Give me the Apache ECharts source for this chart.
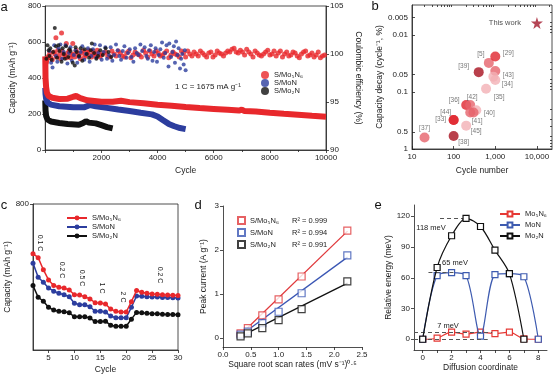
<!DOCTYPE html>
<html>
<head>
<meta charset="utf-8">
<script src="https://cdn.jsdelivr.net/npm/echarts@6/dist/echarts.min.js"></script>
<style>
html, body { margin: 0; padding: 0; background: #fff; }
#chart { width: 554px; height: 376px; }
</style>
</head>
<body>
<div id="chart"></div>
<script>
const FONT = 'Liberation Sans, Arial, sans-serif';
const RED = '#e8282c';
const BLUE = '#2c3d9e';
const BLACK = '#111111';

// ---- panel a: long cycling at 1 C ----
const redCapacity = [[1, 520], [10, 400], [30, 350], [60, 318], [120, 300], [250, 290], [500, 283], [800, 285], [1000, 296], [1100, 300], [1250, 288], [1500, 276], [2000, 268], [2400, 268], [2700, 274], [3000, 266], [3500, 260], [4000, 251], [4500, 246], [5000, 239], [5500, 233], [6000, 228], [6500, 223], [6900, 219], [7000, 224], [7100, 216], [7500, 214], [8000, 207], [8500, 201], [9000, 196], [9500, 190], [10000, 185]];
const blueCapacity = [[1, 345], [10, 310], [30, 285], [80, 265], [200, 252], [500, 243], [1000, 237], [1400, 238], [1600, 250], [1800, 243], [2200, 234], [2600, 225], [3000, 217], [3400, 207], [3800, 198], [4000, 186], [4200, 165], [4400, 145], [4600, 132], [4800, 122], [5000, 116]];
const blackCapacity = [[1, 275], [10, 220], [30, 190], [80, 170], [200, 158], [500, 150], [800, 144], [1200, 140], [1350, 150], [1450, 160], [1550, 152], [1800, 148], [2000, 138], [2200, 127], [2400, 120]];

const redCE = [[20, 99.0], [50, 99.2], [60, 99.4], [90, 99.6], [120, 99.8], [160, 100.1], [200, 99.6], [250, 99.4], [300, 100.2], [340, 100.0], [380, 101.7], [400, 99.7], [450, 100.4], [500, 99.9], [540, 99.5], [580, 102.2], [600, 100.3], [650, 100.0], [700, 99.8], [750, 101.1], [760, 99.6], [800, 100.1], [850, 100.3], [900, 99.6], [950, 99.9], [980, 101.1], [1000, 100.0], [1050, 99.7], [1100, 100.4], [1150, 100.1], [1200, 99.8], [1250, 99.5], [1300, 100.1], [1350, 100.3], [1400, 99.7], [1450, 99.9], [1500, 100.2], [1550, 100.4], [1600, 99.9], [1650, 99.7], [1700, 100.3], [1750, 100.0], [1800, 99.8], [1850, 100.4], [1900, 100.1], [1950, 99.7], [2000, 99.9], [2075, 100.1], [2150, 100.2], [2225, 99.8], [2300, 99.7], [2375, 100.3], [2450, 100.0], [2525, 99.8], [2600, 100.3], [2675, 100.1], [2750, 99.8], [2825, 99.7], [2900, 100.1], [2975, 100.3], [3050, 99.6], [3125, 99.9], [3200, 100.2], [3275, 100.0], [3350, 99.9], [3425, 99.7], [3500, 100.4], [3575, 100.1], [3650, 99.7], [3725, 100.3], [3800, 100.0], [3875, 99.8], [3950, 100.3], [4025, 100.1], [4100, 99.8], [4175, 99.9], [4250, 100.1], [4325, 100.3], [4400, 99.6], [4475, 99.9], [4550, 100.2], [4625, 100.0], [4700, 99.9], [4775, 99.7], [4850, 100.3], [4925, 100.1], [5000, 99.7], [5075, 100.3], [5150, 100.0], [5225, 99.8], [5300, 100.2], [5375, 100.0], [5450, 99.8], [5525, 100.3], [5600, 100.1], [5675, 99.9], [5750, 99.7], [5825, 100.1], [5900, 100.2], [5975, 99.7], [6050, 99.9], [6125, 100.3], [6200, 100.1], [6275, 100.0], [6350, 99.8], [6425, 100.1], [6500, 100.3], [6575, 100.2], [6650, 100.5], [6725, 100.6], [6800, 100.2], [6875, 100.1], [6950, 100.4], [7025, 100.2], [7100, 99.9], [7175, 100.5], [7250, 100.2], [7325, 100.0], [7400, 99.7], [7475, 100.3], [7550, 100.1], [7625, 99.9], [7700, 99.8], [7775, 100.0], [7850, 100.2], [7925, 100.4], [8000, 99.9], [8075, 100.0], [8150, 100.3], [8225, 99.8], [8300, 100.1], [8375, 100.3], [8450, 99.7], [8525, 100.0], [8600, 100.2], [8675, 99.8], [8750, 99.9], [8825, 100.2], [8900, 100.1], [8975, 99.8], [9050, 99.6], [9125, 100.0], [9200, 100.2], [9275, 100.3], [9350, 99.8], [9425, 99.9], [9500, 100.1], [9575, 99.7], [9650, 99.9], [9725, 100.2], [9800, 99.6], [9875, 99.8], [9950, 99.9]];
const blueCE = [[150, 100.3], [210, 99.1], [260, 98.6], [320, 100.9], [380, 99.8], [430, 99.2], [480, 100.6], [540, 101.0], [600, 99.5], [660, 100.2], [720, 100.9], [790, 99.0], [850, 100.1], [900, 100.7], [950, 99.3], [1020, 99.9], [1080, 100.4], [1140, 99.1], [1200, 99.7], [1260, 100.2], [1320, 100.8], [1390, 99.4], [1450, 100.0], [1520, 100.6], [1580, 99.2], [1640, 99.8], [1700, 100.5], [1760, 101.0], [1820, 99.6], [1890, 100.1], [1950, 100.9], [2010, 99.4], [2080, 100.2], [2140, 100.7], [2200, 99.5], [2270, 99.9], [2330, 100.7], [2390, 99.3], [2450, 99.9], [2520, 101.0], [2580, 100.4], [2640, 99.8], [2700, 99.4], [2760, 100.3], [2820, 100.8], [2890, 99.6], [2950, 100.1], [3010, 100.5], [3070, 99.7], [3140, 99.2], [3200, 100.6], [3260, 100.1], [3320, 99.9], [3390, 101.0], [3450, 100.3], [3540, 100.7], [3600, 99.8], [3650, 99.5], [3700, 100.4], [3760, 100.9], [3820, 99.3], [3880, 100.2], [3930, 100.6], [3980, 99.2], [4040, 99.9], [4100, 100.5], [4160, 101.2], [4220, 99.6], [4270, 100.1], [4320, 100.9], [4390, 98.7], [4420, 101.1], [4480, 99.7], [4530, 100.2], [4580, 100.8], [4620, 99.1], [4660, 101.3], [4710, 99.9], [4750, 100.6], [4800, 98.5], [4840, 99.5], [4880, 100.0], [4930, 98.9], [4970, 100.4], [5000, 98.3]];
const blackCE = [[40, 99.5], [80, 100.9], [120, 100.4], [150, 99.8], [180, 100.6], [230, 99.4], [280, 100.2], [340, 102.7], [380, 100.8], [420, 99.6], [470, 100.9], [510, 100.3], [580, 99.2], [620, 100.6], [660, 100.0], [700, 99.5], [740, 100.8], [820, 99.7], [860, 100.5], [900, 100.3], [980, 99.1], [1050, 98.8], [1080, 100.7], [1120, 100.2], [1200, 99.8], [1260, 100.6], [1320, 99.3], [1400, 100.5], [1480, 100.0], [1560, 99.6], [1620, 100.4], [1660, 101.1], [1740, 100.1], [1820, 99.5], [1880, 99.8], [1960, 100.4], [2050, 99.9], [2150, 100.6], [2250, 100.2], [2350, 99.7]];

// ---- panel b: comparison with literature ----
const refLabels = ['[5]', '[29]', '[39]', '[43]', '', '[34]', '[35]', '[36]', '[42]', '[40]', '[41]', '', '[44]', '[33]', '[45]', '[37]', '[38]'];
const refCycles = [700, 1000, 400, 1000, 900, 1000, 600, 200, 250, 350, 250, 300, 100, 100, 200, 20, 100];
const refDecay = [0.031, 0.024, 0.045, 0.043, 0.054, 0.062, 0.088, 0.17, 0.17, 0.21, 0.23, 0.23, 0.31, 0.31, 0.39, 0.63, 0.59];
const refShade = [2, 1, 0, 2, 3, 3, 3, 1, 2, 3, 2, 2, 1, 1, 3, 2, 0];
const thisWork = [10000, 0.0062];

// ---- panel c: rate capability ----
const rateCycles = [2, 3, 4, 5, 6, 7, 8, 9, 10, 11, 12, 13, 14, 15, 16, 17, 18, 19, 20, 21, 22, 23, 24, 25, 26, 27, 28, 29, 30];
const rateRed = [528, 506, 440, 384, 353, 344, 340, 329, 303, 302, 292, 280, 259, 258, 252, 224, 212, 208, 208, 265, 326, 316, 311, 307, 305, 303, 302, 300, 298];
const rateBlue = [476, 399, 371, 340, 322, 311, 303, 292, 256, 248, 248, 237, 212, 212, 208, 186, 177, 177, 177, 234, 296, 294, 292, 291, 290, 288, 287, 286, 285];
const rateBlack = [353, 289, 267, 234, 219, 212, 210, 204, 182, 182, 182, 175, 156, 156, 157, 136, 130, 130, 130, 169, 206, 204, 202, 199, 198, 196, 195, 194, 193];
const rateNames = ['0.1 C', '0.2 C', '0.5 C', '1 C', '2 C', '0.2 C'];

// ---- panel d: peak current vs sqrt scan rate ----
const scanRoot = [0.316, 0.447, 0.707, 1.0, 1.414, 2.236];
const peakRed = [0.11, 0.23, 0.52, 0.88, 1.40, 2.44];
const peakBlue = [0.08, 0.15, 0.34, 0.60, 1.02, 1.88];
const peakBlack = [0.04, 0.11, 0.23, 0.41, 0.66, 1.29];
const fitX = [0.3, 2.24];
const fitRed = [0.06, 2.43];
const fitBlue = [0.05, 1.84];
const fitBlack = [0.03, 1.25];
const r2Values = ['0.999', '0.994', '0.991'];

// ---- panel e: diffusion barriers ----
const diffX = [0, 1, 2, 3, 4, 5, 6, 7, 8];
const energyMo5N6 = [0, 1, 7, 5, 7, 5.5, 7, 0.5, 0];
const energyMoN = [0, 62, 65, 62, 3, 63, 64, 61, 0];
const energyMo2N = [0, 70, 101, 118, 110, 87, 64, 0];
const barrierY = [118, 65, 7, 0];
const barrierFrom = [1.2, 0.4, -0.6, -0.6];
const barrierTo = [3.0, 2.2, 4.8, 4.5];

const names = ['S/Mo₅N₆', 'S/MoN', 'S/Mo₂N'];
const eNames = ['Mo₅N₆', 'MoN', 'Mo₂N'];
const colors = [RED, BLUE, BLACK];
const shades = ['#a8101e', '#e0262e', '#e6636b', '#f3b0b5'];
const labelOffsets = [[-8, -9], [13, -3], [-15, -6], [13, 4], [0, 0], [12, 4], [13, 8], [-12, -5], [2, -8], [13, 3], [7, 9], [0, 0], [-8, -8], [-13, -1], [10, 6], [0, -9], [10, 6]];

function ax(extra) {
    const base = {
        nameLocation: 'middle',
        axisLine: { show: true, onZero: false, lineStyle: { color: '#222', width: 0.8 } },
        axisTick: { show: true, length: 3, lineStyle: { color: '#222', width: 0.8 } },
        axisLabel: { fontSize: 8, color: '#222', fontFamily: FONT, margin: 4 },
        splitLine: { show: false },
        nameTextStyle: { fontSize: 8.5, color: '#222', fontFamily: FONT },
    };
    Object.keys(extra).forEach((k) => {
        const v = extra[k];
        if (v && typeof v === 'object' && !Array.isArray(v) && base[k]) {
            base[k] = Object.assign({}, base[k], v);
        } else {
            base[k] = v;
        }
    });
    return base;
}

const zip = (xs, ys) => xs.map((x, i) => [x, ys[i]]);
const strip = (n) => n.split('|')[1];

const chart = echarts.init(document.getElementById('chart'));

const gridBox = { show: true, borderColor: '#222', borderWidth: 0.8, backgroundColor: 'transparent' };

const series = [];

// panel a
[redCE, blueCE, blackCE].forEach((d, i) => {
    series.push({
        name: 'a|' + names[i], type: 'scatter', xAxisIndex: 0, yAxisIndex: 1,
        data: d, symbolSize: i === 0 ? 5 : 4, itemStyle: { color: colors[i] }, z: 3,
    });
});
[blackCapacity, blueCapacity, redCapacity].forEach((d, k) => {
    const i = 2 - k;
    series.push({
        name: 'a|' + names[i], type: 'line', xAxisIndex: 0, yAxisIndex: 0,
        data: d, showSymbol: false, lineStyle: { color: colors[i], width: 6 },
        itemStyle: { color: colors[i] }, z: 2,
    });
});

// panel b
series.push({
    type: 'scatter', xAxisIndex: 1, yAxisIndex: 2, symbolSize: 10,
    data: refCycles.map((c, i) => ({
        value: [c, refDecay[i]],
        itemStyle: { color: shades[refShade[i]] },
        label: {
            show: refLabels[i] !== '', formatter: refLabels[i], position: 'inside',
            offset: labelOffsets[i], fontSize: 6.5, color: '#555', fontFamily: FONT,
        },
    })),
});
series.push({
    type: 'scatter', xAxisIndex: 1, yAxisIndex: 2, symbolSize: 12,
    symbol: 'path://M50,0 L61,35 L98,35 L68,57 L79,91 L50,70 L21,91 L32,57 L2,35 L39,35 Z',
    data: [thisWork], itemStyle: { color: '#a3172a' },
    label: { show: true, formatter: 'This work', position: 'left', distance: 10, fontSize: 7.5, color: '#222', fontFamily: FONT },
});

// panel c
[rateRed, rateBlue, rateBlack].forEach((d, i) => {
    series.push({
        name: 'c|' + names[i], type: 'line', xAxisIndex: 3, yAxisIndex: 4,
        data: zip(rateCycles, d), symbol: 'circle', symbolSize: 5,
        lineStyle: { color: colors[i], width: 1.5 }, itemStyle: { color: colors[i] }, z: 3 - i,
    });
});

// panel d
const dColors = ['#e0393c', '#3a56b4', '#111'];
[peakRed, peakBlue, peakBlack].forEach((d, i) => {
    series.push({
        name: 'd|' + names[i], type: 'scatter', xAxisIndex: 4, yAxisIndex: 5,
        data: zip(scanRoot, d), symbol: 'rect', symbolSize: 7,
        itemStyle: { color: '#fff', borderColor: dColors[i], borderWidth: 1.2 }, z: 4,
    });
});
[fitRed, fitBlue, fitBlack].forEach((d, i) => {
    series.push({
        type: 'line', xAxisIndex: 4, yAxisIndex: 5, data: zip(fitX, d),
        showSymbol: false, lineStyle: { color: dColors[i], width: 1.3 }, z: 3,
    });
});

// panel e
const eColors = ['#e53935', '#3e5bb0', '#111'];
[energyMo5N6, energyMoN, energyMo2N].forEach((d, i) => {
    const s = {
        name: 'e|' + eNames[i], type: 'line', xAxisIndex: 5, yAxisIndex: 6,
        data: zip(diffX.slice(0, d.length), d), smooth: 0.3,
        symbol: 'rect', symbolSize: 6,
        lineStyle: { color: eColors[i], width: 1.2 },
        itemStyle: { color: '#fff', borderColor: eColors[i], borderWidth: 1.2 },
        z: 3 + i,
    };
    if (i === 2) {
        s.markLine = {
            silent: true, symbol: 'none', label: { show: false },
            lineStyle: { color: '#555', type: [4, 3], width: 1 },
            data: barrierY.map((y, k) => [{ coord: [barrierFrom[k], y] }, { coord: [barrierTo[k], y] }]),
        };
    }
    series.push(s);
});

const legendText = { fontSize: 7.5, color: '#222', fontFamily: FONT };

const option = {
    animation: false,
    backgroundColor: '#fff',
    textStyle: { fontFamily: FONT },
    grid: [
        Object.assign({ left: 33, top: 6, width: 293, height: 144 }, gridBox),
        Object.assign({ left: 412, top: 5, width: 140, height: 144 }, gridBox),
        Object.assign({ left: 33, top: 204, width: 145, height: 146 }, gridBox),
        { left: 223, top: 206, width: 139, height: 141 },
        { left: 414, top: 205, width: 133, height: 145 },
    ],
    xAxis: [
        ax({
            gridIndex: 0, type: 'value', min: 0, max: 10000, interval: 2000, name: 'Cycle', nameGap: 16,
            axisLabel: { formatter: (v) => (v === 0 ? '' : v) },
            minorTick: { show: true, splitNumber: 2, length: 2, lineStyle: { color: '#222', width: 0.8 } },
        }),
        ax({
            gridIndex: 1, type: 'log', logBase: 10, min: 10, max: 23000, name: 'Cycle number', nameGap: 17,
            axisLabel: { customValues: [10, 100, 1000, 10000] },
            axisTick: { customValues: [10, 100, 1000, 10000], inside: true },
        }),
        ax({
            gridIndex: 1, type: 'log', logBase: 10, min: 10, max: 23000,
            axisLine: { show: false }, axisLabel: { show: false },
            axisTick: {
                customValues: [20, 30, 40, 50, 60, 70, 80, 90, 200, 300, 400, 500, 600, 700, 800, 900, 2000, 3000, 4000, 5000, 6000, 7000, 8000, 9000, 20000],
                inside: true, length: 2,
            },
        }),
        ax({
            gridIndex: 2, type: 'value', min: 2, max: 30, name: 'Cycle', nameGap: 15,
            axisLabel: { customValues: [5, 10, 15, 20, 25, 30] },
            axisTick: { customValues: [5, 10, 15, 20, 25, 30] },
        }),
        ax({
            gridIndex: 3, type: 'value', min: 0, max: 2.5, interval: 0.5,
            name: 'Square root scan rates (mV s⁻¹)⁰·⁵', nameGap: 12,
            axisLabel: { formatter: (v) => v.toFixed(1) },
        }),
        ax({
            gridIndex: 4, type: 'value', min: -0.6, max: 8.6, name: 'Diffusion coordinate', nameGap: 13,
            axisLabel: { customValues: [0, 2, 4, 6, 8] },
            axisTick: { customValues: [0, 1, 2, 3, 4, 5, 6, 7, 8] },
        }),
    ],
    yAxis: [
        ax({ gridIndex: 0, type: 'value', min: 0, max: 800, interval: 200, name: 'Capacity (mAh g⁻¹)', nameGap: 21 }),
        ax({
            gridIndex: 0, type: 'value', position: 'right', min: 90, max: 105, interval: 5,
            name: 'Coulombic efficiency (%)', nameGap: 25, nameRotate: -90,
        }),
        ax({
            gridIndex: 1, type: 'log', logBase: 10, inverse: true, min: 0.003, max: 1,
            name: 'Capacity decay (cycle⁻¹, %)', nameGap: 28,
            axisLabel: { customValues: [0.005, 0.01, 0.05, 0.1, 0.5, 1] },
            axisTick: { customValues: [0.005, 0.01, 0.05, 0.1, 0.5, 1], inside: true },
        }),
        ax({
            gridIndex: 1, type: 'log', logBase: 10, inverse: true, min: 0.003, max: 1,
            axisLine: { show: false }, axisLabel: { show: false },
            axisTick: {
                customValues: [0.004, 0.006, 0.007, 0.008, 0.009, 0.02, 0.03, 0.04, 0.06, 0.07, 0.08, 0.09, 0.2, 0.3, 0.4, 0.6, 0.7, 0.8, 0.9],
                inside: true, length: 2,
            },
        }),
        ax({
            gridIndex: 2, type: 'value', min: 0, max: 800, name: 'Capacity (mAh g⁻¹)', nameGap: 18,
            axisLabel: { customValues: [800] }, axisTick: { customValues: [800] },
        }),
        ax({
            gridIndex: 3, type: 'value', min: -0.2, max: 3, name: 'Peak current (A g⁻¹)', nameGap: 15,
            axisLabel: { customValues: [0, 1, 2, 3] }, axisTick: { customValues: [0, 1, 2, 3] },
        }),
        ax({
            gridIndex: 4, type: 'value', min: -10.5, max: 131, name: 'Relative energy (meV)', nameGap: 21,
            axisLabel: { customValues: [0, 30, 60, 90, 120] }, axisTick: { customValues: [0, 30, 60, 90, 120] },
        }),
    ],
    legend: [
        {
            data: names.map((n) => 'a|' + n), formatter: strip, left: 261, top: 71, orient: 'vertical',
            icon: 'circle', itemWidth: 8, itemHeight: 8, itemGap: 0, padding: 0, selectedMode: false, textStyle: legendText,
        },
        {
            data: names.map((n) => 'c|' + n), formatter: strip, left: 66, top: 214, orient: 'vertical',
            itemWidth: 20, itemHeight: 6, itemGap: 1, padding: 0, selectedMode: false, textStyle: legendText,
        },
        {
            data: names.map((n) => 'd|' + n), left: 237, top: 216, orient: 'vertical',
            itemWidth: 7, itemHeight: 7, itemGap: 3, padding: 0, selectedMode: false,
            formatter: (n) => `{n|${strip(n)}}{r|R² = ${r2Values[names.indexOf(strip(n))]}}`,
            textStyle: Object.assign({}, legendText, { rich: { n: { width: 42, fontSize: 7.5, fontFamily: FONT }, r: { fontSize: 7.5, fontFamily: FONT } } }),
        },
        {
            data: eNames.map((n) => 'e|' + n), formatter: strip, left: 499, top: 210, orient: 'vertical',
            itemWidth: 20, itemHeight: 6, itemGap: 3, padding: 0, selectedMode: false, textStyle: legendText,
        },
    ],
    graphic: [
        ...[['a', 4, 7], ['b', 375, 6], ['c', 4, 205], ['d', 198, 205], ['e', 378, 205]].map(([t, x, y]) => ({
            type: 'text', x, y, style: { text: t, font: `13px ${FONT}`, fill: '#111', align: 'center', verticalAlign: 'middle' },
        })),
        {
            type: 'text', x: 208, y: 87,
            style: { text: '1 C = 1675 mA g⁻¹', font: `8px ${FONT}`, fill: '#222', align: 'center', verticalAlign: 'middle' },
        },
        ...[[40, 243], [62, 270], [82, 278], [102, 288], [123, 297], [160, 275]].map(([x, y], i) => ({
            type: 'text', x, y, rotation: -Math.PI / 2,
            style: { text: rateNames[i], font: `7px ${FONT}`, fill: '#222', align: 'center', verticalAlign: 'middle' },
        })),
        ...[['118 meV', 431, 228], ['65 meV', 455, 263], ['7 meV', 448, 326]].map(([t, x, y]) => ({
            type: 'text', x, y,
            style: { text: t, font: `7.5px ${FONT}`, fill: '#222', align: 'center', verticalAlign: 'middle' },
        })),
    ],
    series,
};

chart.setOption(option);
</script>
</body>
</html>
